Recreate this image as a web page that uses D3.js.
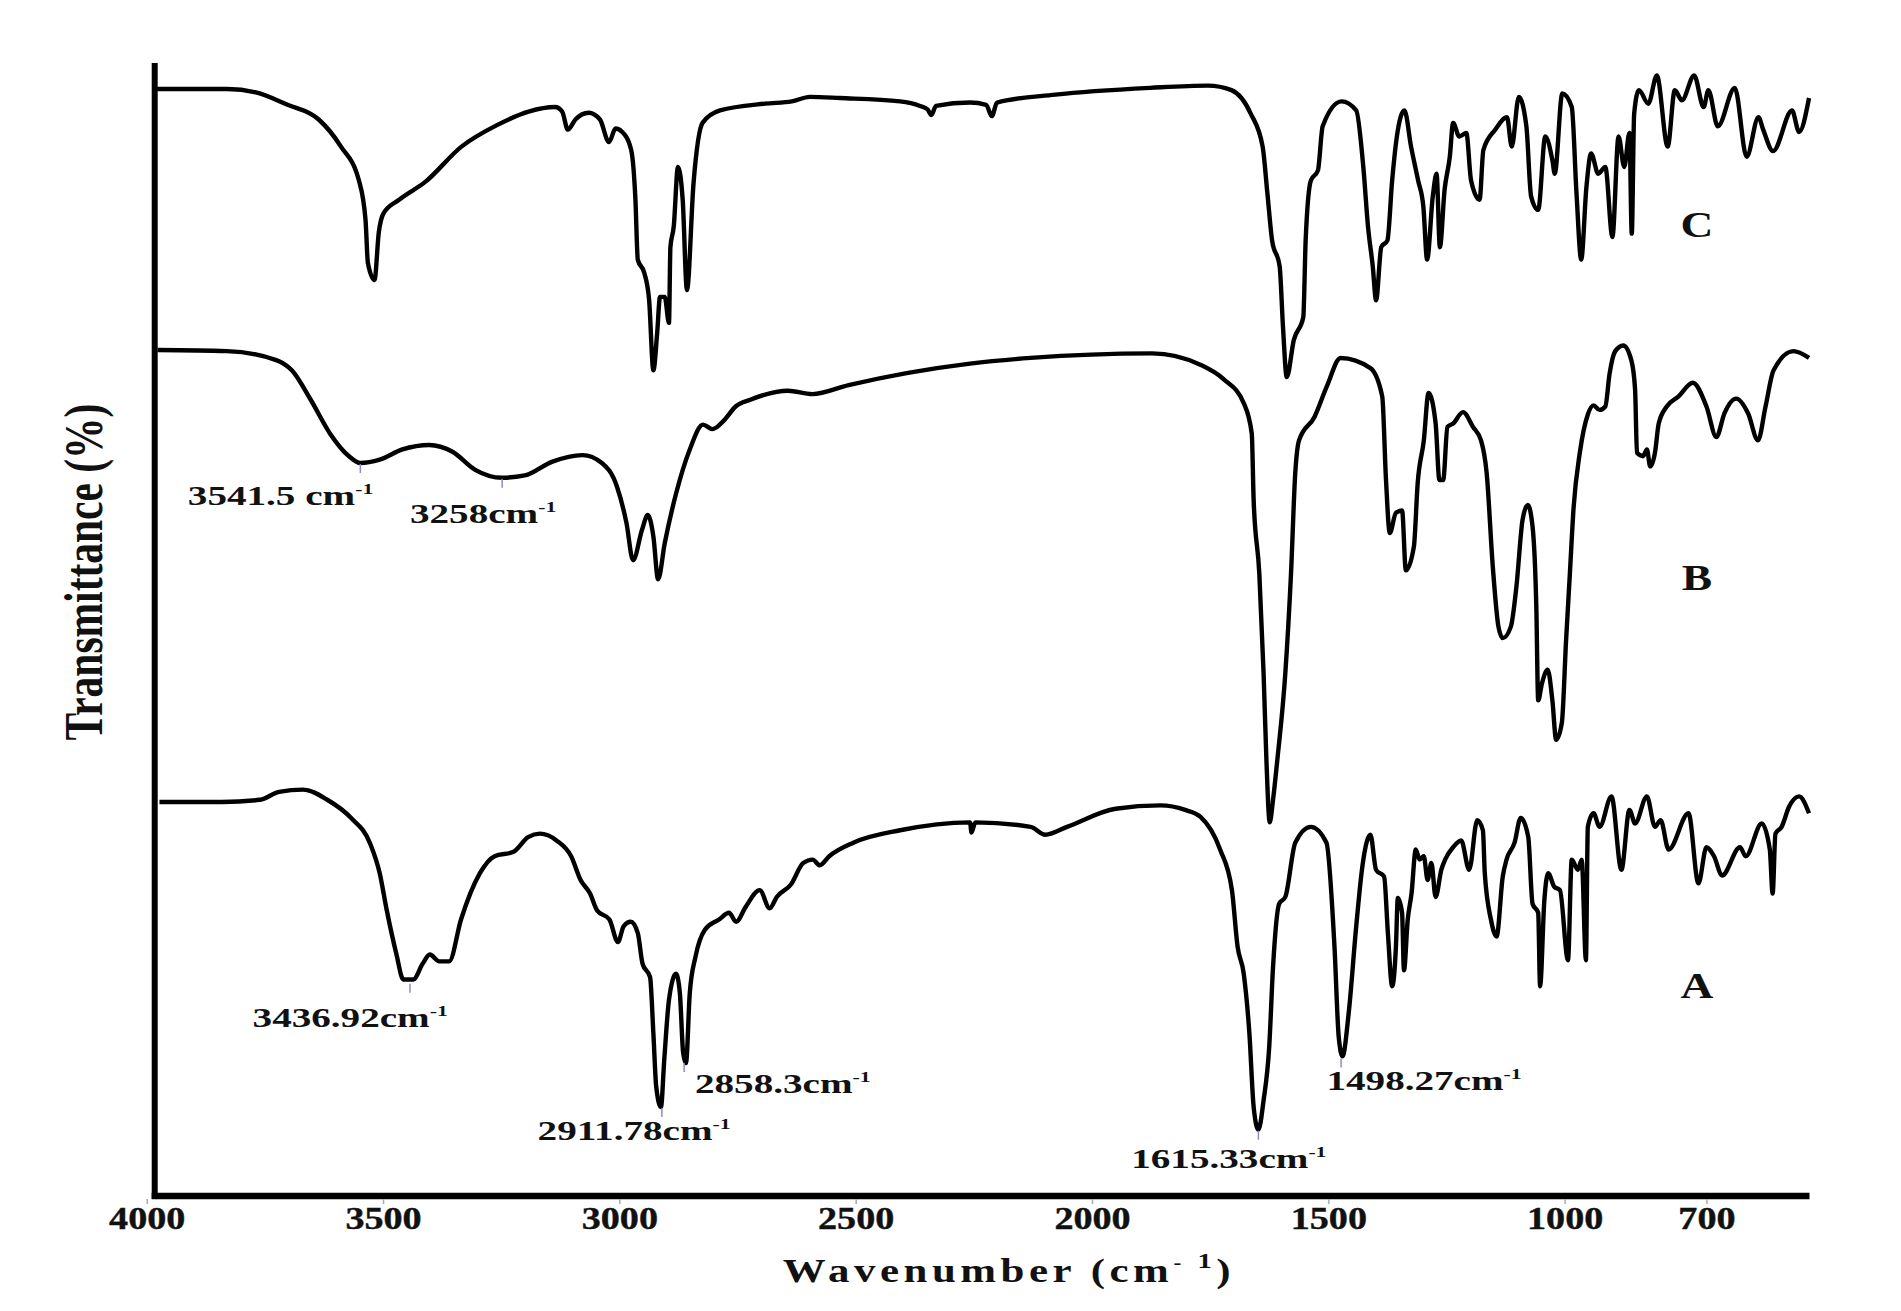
<!DOCTYPE html>
<html>
<head>
<meta charset="utf-8">
<script src="https://cdn.jsdelivr.net/npm/d3@7"></script>
<style>
  body { margin: 0; background: #fff; }
  text { font-family: "Liberation Serif", "Times New Roman", serif; font-weight: bold; fill: #111; }
</style>
</head>
<body>
<script>
// FTIR spectra A, B, C (wavenumber cm-1, transmittance offset units)

var specC = [
  [3982,97.7],[3830,97.7],[3769,97.4],[3702,96.3],[3636,95.0],[3589,92.6],[3551,89.6],[3537,86.1],
  [3532,82.3],[3518,80.8],[3509,85.0],[3499,86.7],[3466,87.9],[3410,89.5],[3334,92.6],[3259,94.5],
  [3192,95.7],[3136,96.1],[3121,95.7],[3109,94.1],[3093,95.0],[3065,95.6],[3041,95.0],[3022,93.0],
  [3008,94.2],[2994,93.9],[2975,92.3],[2966,87.9],[2961,82.6],[2947,81.4],[2937,79.0],[2928,72.8],
  [2920,76.1],[2914,79.3],[2904,79.3],[2895,77.0],[2892,83.7],[2885,85.5],[2876,90.8],[2866,87.9],
  [2857,79.9],[2843,89.4],[2824,94.7],[2787,95.8],[2692,96.4],[2635,96.6],[2597,97.0],[2533,96.9],
  [2406,96.6],[2364,96.2],[2348,95.9],[2340,95.4],[2330,96.2],[2258,96.5],[2224,96.3],[2212,95.3],
  [2201,96.5],[2078,97.2],[1877,97.8],[1755,98.0],[1705,97.6],[1664,95.5],[1639,92.6],[1629,88.5],
  [1619,84.3],[1603,82.0],[1596,76.7],[1588,72.2],[1573,75.5],[1553,77.5],[1548,84.3],[1537,89.6],
  [1522,90.5],[1512,94.4],[1472,96.6],[1441,95.8],[1426,90.8],[1416,85.5],[1406,82.0],[1399,79.0],
  [1388,83.7],[1375,84.3],[1365,89.6],[1355,93.5],[1339,95.8],[1325,92.6],[1310,89.6],[1299,87.3],
  [1291,82.6],[1279,88.2],[1271,90.2],[1264,83.7],[1254,88.8],[1243,91.7],[1236,94.7],[1223,93.5],
  [1208,93.8],[1198,89.6],[1180,87.9],[1172,92.3],[1147,94.1],[1122,95.2],[1112,92.6],[1097,97.0],
  [1081,94.4],[1071,88.2],[1056,87.0],[1041,93.5],[1026,91.4],[1021,90.2],[1005,97.3],[985,96.1],
  [975,88.5],[965,82.6],[954,89.0],[944,92.0],[929,90.2],[914,90.8],[899,84.6],[886,93.5],
  [874,90.8],[863,93.8],[858,84.9],[853,95.5],[843,97.6],[823,96.4],[805,98.9],[782,92.6],
  [767,97.6],[752,96.7],[726,98.9],[706,96.1],[696,97.6],[676,94.4],[640,97.8],[615,91.7],
  [590,95.2],[580,94.1],[559,92.2],[519,95.8],[504,93.9],[483,96.9]
];

var specB = [
  [3977,74.6],[3831,74.5],[3726,73.7],[3693,72.8],[3653,70.2],[3612,67.2],[3572,65.2],[3548,64.6],
  [3507,64.9],[3459,65.8],[3402,66.2],[3353,65.6],[3305,64.0],[3248,63.3],[3200,63.5],[3143,64.7],
  [3078,65.3],[3037,64.6],[3005,62.5],[2985,59.3],[2971,56.0],[2952,58.7],[2940,60.0],[2928,58.1],
  [2918,54.3],[2904,57.5],[2880,61.9],[2851,65.8],[2823,68.0],[2803,67.6],[2778,68.4],[2754,69.6],
  [2723,70.2],[2643,71.0],[2592,70.7],[2515,71.5],[2258,73.4],[2130,73.9],[1873,74.3],[1771,73.3],
  [1721,72.0],[1679,69.9],[1662,67.2],[1658,61.3],[1646,54.8],[1637,46.0],[1631,38.3],[1624,32.8],
  [1617,34.8],[1608,38.3],[1591,46.0],[1579,54.8],[1570,63.7],[1562,66.6],[1529,68.7],[1503,71.4],
  [1474,73.9],[1411,73.0],[1386,70.5],[1378,63.1],[1370,58.4],[1357,60.2],[1344,60.4],[1336,55.1],
  [1319,57.2],[1311,62.8],[1298,66.6],[1288,70.8],[1273,68.1],[1265,63.1],[1257,63.1],[1248,67.8],
  [1236,68.1],[1215,69.1],[1194,67.8],[1177,66.6],[1165,63.7],[1152,55.4],[1140,50.1],[1131,49.1],
  [1114,50.1],[1102,53.7],[1089,59.6],[1078,60.9],[1068,59.0],[1060,51.9],[1056,43.6],[1048,45.1],
  [1036,46.3],[1026,43.6],[1018,40.1],[1006,41.6],[997,48.9],[989,54.8],[981,60.7],[968,65.5],
  [951,68.9],[939,69.7],[926,69.3],[914,69.6],[905,72.5],[893,74.5],[876,75.0],[859,73.7],
  [851,71.1],[847,65.5],[834,65.2],[826,65.8],[819,64.3],[809,65.5],[801,68.1],[784,69.6],
  [759,70.5],[729,71.7],[700,69.6],[679,66.9],[662,69.0],[637,70.3],[612,69.0],[591,66.6],
  [575,69.6],[558,72.8],[516,74.5],[483,73.9]
];

var specA = [
  [3973,34.6],[3841,34.6],[3760,34.8],[3720,35.5],[3669,35.7],[3618,34.8],[3568,33.2],[3527,30.9],
  [3507,28.3],[3492,25.0],[3472,21.2],[3457,18.9],[3436,18.9],[3416,20.3],[3401,21.1],[3381,20.5],
  [3360,20.5],[3335,24.2],[3295,28.3],[3264,29.8],[3224,30.2],[3193,31.5],[3168,31.8],[3133,31.2],
  [3102,29.8],[3082,27.7],[3062,26.5],[3047,25.0],[3021,24.2],[3003,22.2],[2991,23.6],[2976,24.0],
  [2961,23.0],[2951,20.3],[2935,19.1],[2928,14.1],[2922,9.4],[2912,7.6],[2905,11.8],[2895,17.1],
  [2880,19.4],[2872,17.7],[2865,12.4],[2859,11.5],[2851,17.7],[2839,20.9],[2819,23.3],[2789,24.2],
  [2768,24.8],[2753,24.0],[2733,25.3],[2703,26.8],[2682,25.2],[2667,26.2],[2637,27.3],[2611,29.2],
  [2591,29.5],[2576,29.0],[2556,29.8],[2505,31.0],[2406,32.1],[2258,32.8],[2255,31.9],[2247,32.8],
  [2130,32.4],[2099,31.7],[2053,32.4],[1950,34.0],[1855,34.3],[1803,33.9],[1771,33.3],[1729,30.4],
  [1704,26.8],[1692,21.8],[1679,19.4],[1667,14.1],[1658,7.6],[1648,5.6],[1637,8.2],[1625,13.0],
  [1617,20.0],[1604,25.6],[1591,26.2],[1570,31.0],[1537,32.4],[1504,31.0],[1487,21.8],[1478,13.8],
  [1470,12.1],[1457,15.9],[1441,23.6],[1428,28.9],[1411,31.7],[1399,28.6],[1382,28.0],[1374,23.0],
  [1365,18.3],[1357,21.8],[1353,26.1],[1344,24.8],[1340,19.7],[1332,24.2],[1324,26.5],[1315,30.4],
  [1307,29.5],[1298,29.8],[1290,27.7],[1282,29.2],[1273,26.2],[1261,28.6],[1253,29.5],[1236,30.6],
  [1219,31.2],[1202,28.6],[1185,33.0],[1173,32.1],[1169,28.3],[1156,24.2],[1144,22.7],[1131,28.0],
  [1123,29.5],[1106,31.0],[1093,33.2],[1077,31.5],[1068,25.6],[1056,24.8],[1052,18.3],[1043,25.9],
  [1035,28.3],[1022,27.1],[1010,26.8],[993,20.6],[985,29.5],[972,28.6],[964,29.5],[955,20.6],
  [951,32.4],[939,33.6],[926,32.4],[901,35.1],[880,28.6],[863,33.9],[851,32.7],[826,35.1],
  [809,32.4],[797,33.0],[780,30.4],[738,33.6],[717,27.4],[700,30.6],[684,29.8],[667,28.1],
  [629,30.6],[617,29.8],[583,32.7],[566,30.4],[560,26.5],[554,31.8],[541,32.4],[525,34.2],
  [504,35.1],[483,33.6]
];

var seriesNames = ['A', 'B', 'C'];
var nameWave = [720, 720, 720];
var nameTrans = [17.3, 53.4, 84.6];

var tickValues = [4000, 3500, 3000, 2500, 2000, 1500, 1000, 700];

// peak picks: label text, peak position, label anchor
var peakText = ['3541.5 cm', '3258cm', '3436.92cm', '2911.78cm', '2858.3cm', '1615.33cm', '1498.27cm'];
var peakWave = [3548, 3248, 3443, 2910, 2863, 1648, 1473];
var peakTrans = [64.6, 63.3, 18.6, 7.6, 11.6, 5.6, 12.0];
var labelWave = [3913, 3443, 3776, 3173, 2840, 1917, 1504];
var labelTrans = [60.9, 59.3, 14.7, 4.7, 8.85, 2.25, 9.1];

var width = 1901, height = 1311;

var svg = d3.select('body').append('svg')
  .attr('width', width)
  .attr('height', height);

svg.append('rect').attr('width', width).attr('height', height).attr('fill', '#fff');

var x = d3.scaleLinear().domain([4000, 482]).range([146.7, 1809.5]);
var y = d3.scaleLinear().domain([0, 100]).range([1193, 63]);

var line = d3.line()
  .x(d => x(d[0]))
  .y(d => y(d[1]))
  .curve(d3.curveMonotoneX);

[specA, specB, specC].forEach(function(s){
  svg.append('path')
    .datum(s)
    .attr('d', line)
    .attr('fill', 'none')
    .attr('stroke', '#000')
    .attr('stroke-width', 4.4)
    .attr('stroke-linejoin', 'round');
});

// axes
var axisX0 = x(4000) + 8;
svg.append('line')
  .attr('x1', axisX0).attr('x2', axisX0)
  .attr('y1', 63).attr('y2', 1199)
  .attr('stroke', '#000').attr('stroke-width', 6);
svg.append('line')
  .attr('x1', axisX0 - 3).attr('x2', x.range()[1])
  .attr('y1', 1196).attr('y2', 1196)
  .attr('stroke', '#000').attr('stroke-width', 6.5);

var xAxis = svg.append('g')
  .attr('transform', 'translate(0,1199)')
  .call(d3.axisBottom(x).tickValues(tickValues).tickSize(5).tickSizeOuter(0).tickFormat(d3.format('d')));
xAxis.select('.domain').remove();
xAxis.selectAll('.tick line').attr('stroke', '#aaa').attr('stroke-width', 1.5);
xAxis.selectAll('.tick text')
  .attr('y', 30).attr('dy', null)
  .attr('transform', 'scale(1.25,1)')
  .style('font-size', '30.5px')
  .style('font-family', '"Liberation Serif", serif')
  .style('font-weight', 'bold')
  .attr('fill', '#111')
  .attr('stroke', '#111')
  .attr('stroke-width', 0.4);

// axis titles
var xt = svg.append('text')
  .attr('text-anchor', 'middle')
  .attr('transform', 'translate(1009,1282) scale(1.3,1)')
  .style('font-size', '33px')
  .style('letter-spacing', '3.5px');
xt.append('tspan').text('Wavenumber (cm');
xt.append('tspan').text('-').style('font-size', '18px').attr('dy', -13);
xt.append('tspan').text(' 1').style('font-size', '22px').attr('dy', -1);
xt.append('tspan').text(')').style('font-size', '33px').attr('dy', 14);

svg.append('text')
  .attr('text-anchor', 'middle')
  .attr('transform', 'translate(102,572) rotate(-90) scale(1,1.3)')
  .style('font-size', '41.5px')
  .text('Transmittance (%)');

// series names
svg.selectAll('text.name')
  .data(seriesNames)
  .enter().append('text')
  .attr('class', 'name')
  .attr('text-anchor', 'middle')
  .attr('transform', (d, i) => 'translate(' + x(nameWave[i]) + ',' + y(nameTrans[i]) + ') scale(1.3,1)')
  .style('font-size', '35px')
  .text(d => d);

// peak annotations
peakText.forEach(function(t, i){
  svg.append('line')
    .attr('x1', x(peakWave[i])).attr('x2', x(peakWave[i]))
    .attr('y1', y(peakTrans[i]) + 1).attr('y2', y(peakTrans[i]) + 10)
    .attr('stroke', '#8f88d8').attr('stroke-width', 1.5);
  var tx = svg.append('text')
    .attr('transform', 'translate(' + x(labelWave[i]) + ',' + y(labelTrans[i]) + ') scale(1.45,1)')
    .style('font-size', '27px');
  tx.append('tspan').text(t);
  tx.append('tspan').text('-1').style('font-size', '15px').attr('dy', -11);
});
</script>
</body>
</html>
